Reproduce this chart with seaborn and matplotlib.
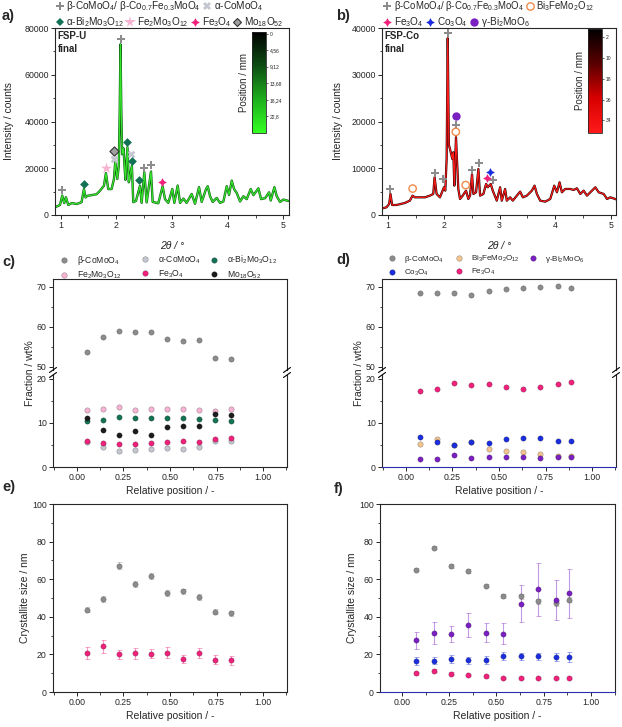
import numpy as np
import pandas as pd
import seaborn as sns
import matplotlib.pyplot as plt
from matplotlib.colors import LinearSegmentedColormap, Normalize
from matplotlib.cm import ScalarMappable
from matplotlib.lines import Line2D
from matplotlib.ticker import MultipleLocator

sns.set_style("ticks")
plt.rcParams["font.family"] = ["Liberation Sans", "DejaVu Sans"]
plt.rcParams["mathtext.fontset"] = "custom"
plt.rcParams["mathtext.rm"] = "Liberation Sans"
plt.rcParams["mathtext.it"] = "Liberation Sans:italic"
plt.rcParams["mathtext.bf"] = "Liberation Sans:bold"
plt.rcParams["axes.linewidth"] = 0.8
plt.rcParams["xtick.direction"] = "out"
plt.rcParams["ytick.direction"] = "out"

# ---- XRD patterns (2theta / deg, counts) ----
tt_u = [0.90, 0.99, 1.03, 1.066, 1.096, 1.138, 1.20, 1.29, 1.377, 1.419, 1.449, 1.48, 1.557,
        1.647, 1.707, 1.778, 1.814, 1.856, 1.916, 1.958, 1.982, 2.018, 2.045, 2.062, 2.075,
        2.09, 2.105, 2.13, 2.15, 2.165, 2.20, 2.225, 2.245, 2.28, 2.305, 2.353, 2.425, 2.455,
        2.503, 2.545, 2.623, 2.653, 2.754, 2.832, 2.874, 2.934, 3.006, 3.042, 3.102, 3.144,
        3.204, 3.263, 3.353, 3.413, 3.485, 3.533, 3.611, 3.641, 3.683, 3.731, 3.802, 3.862,
        3.922, 3.982, 4.024, 4.072, 4.114, 4.162, 4.222, 4.281, 4.341, 4.413, 4.461, 4.551,
        4.599, 4.671, 4.743, 4.772, 4.838, 4.88, 4.94, 5.00, 5.09]
int_u = [3300, 4300, 8300, 5100, 7600, 4300, 5100, 4700, 5500, 11100, 7500, 8200, 8500,
         8900, 10400, 12500, 17900, 11100, 11100, 15400, 22900, 15400, 21000, 45000, 73000,
         45000, 26000, 28500, 20000, 15000, 29000, 14000, 16500, 21000, 5500, 6000, 12500, 5200,
         18300, 5400, 18600, 5600, 5000, 12300, 6800, 5200, 11100, 5200, 12600, 5200,
         7000, 5200, 9000, 4800, 11900, 5600, 11100, 12300, 8000, 5600, 7300, 5200,
         5800, 12300, 8600, 14700, 11100, 9400, 5800, 8000, 6800, 11100, 8500, 11400,
         6800, 7200, 9700, 6200, 11900, 8000, 5600, 6600, 6000]

tt_co = [0.90, 0.97, 1.018, 1.042, 1.072, 1.15, 1.30, 1.39, 1.438, 1.48, 1.57, 1.66, 1.75,
         1.81, 1.834, 1.87, 1.93, 1.978, 2.002, 2.026, 2.05, 2.07, 2.09, 2.11, 2.152, 2.17,
         2.188, 2.218, 2.26, 2.29, 2.338, 2.398, 2.44, 2.47, 2.506, 2.53, 2.578, 2.62, 2.65,
         2.71, 2.758, 2.788, 2.842, 2.878, 2.95, 3.01, 3.04, 3.10, 3.13, 3.19, 3.238, 3.31,
         3.37, 3.418, 3.49, 3.58, 3.628, 3.67, 3.73, 3.82, 3.91, 3.982, 4.03, 4.077, 4.119,
         4.179, 4.269, 4.329, 4.389, 4.449, 4.509, 4.569, 4.629, 4.719, 4.779, 4.869, 4.929,
         4.989, 5.109]
int_co = [1430, 1640, 2360, 4500, 2140, 2140, 2570, 3070, 4140, 3780, 3780, 3780, 4140,
          4500, 8070, 4500, 3780, 5210, 5930, 5210, 12000, 37800, 15000, 14140, 12000, 13420,
          6280, 16640, 5570, 3430, 4140, 5210, 3430, 4140, 8780, 4500, 4860, 9850, 4140,
          4500, 6640, 5930, 6640, 5210, 3070, 5930, 3070, 5570, 3070, 3780, 3070, 4140,
          5000, 3780, 4140, 5210, 6280, 4500, 3070, 2860, 3430, 6280, 4860, 7000, 4860,
          5570, 5570, 5360, 5710, 4500, 5210, 4140, 4860, 5930, 4860, 4500, 3430,
          3780, 3280]

# reflection markers (2theta, counts)
u_beta_x, u_beta_y = [1.03, 2.08, 2.50, 2.625], [10700, 75400, 20000, 21300]
u_acomo_x, u_acomo_y = [1.96, 2.265], [24000, 26300]
u_abi_x, u_abi_y = [1.42, 2.20, 2.282, 2.415], [13200, 31200, 23000, 15000]
u_fe2_x, u_fe2_y = [1.815], [20000]
u_fe3_x, u_fe3_y = [2.828], [14100]
u_mo18_x, u_mo18_y = [1.96], [27300]

co_beta_x = [1.035, 1.834, 1.98, 2.07, 2.218, 2.506, 2.626, 2.878]
co_beta_y = [5600, 9000, 7600, 39000, 19300, 9700, 11200, 7450]
co_bife_x, co_bife_y = [1.44, 2.215, 2.392], [5650, 17800, 6400]
co_fe3_x, co_fe3_y = [2.777], [8000]
co_co3_x, co_co3_y = [2.836], [9250]
co_gbi_x, co_gbi_y = [2.22], [21200]

# ---- phase fractions / wt% ----
pos_u = [0.055, 0.142, 0.227, 0.313, 0.398, 0.484, 0.57, 0.656, 0.742, 0.828]
fr_u_beta = [53.8, 57.6, 59.0, 58.7, 58.75, 56.9, 56.5, 56.75, 52.3, 52.1]
fr_u_acomo = [5.6, 4.5, 3.65, 3.85, 4.0, 4.3, 4.15, 4.5, 5.9, 5.9]
fr_u_abi = [10.5, 10.75, 11.4, 11.2, 11.2, 11.05, 11.1, 10.9, 10.6, 10.5]
fr_u_fe2 = [13.0, 13.2, 13.6, 12.95, 13.25, 13.1, 13.1, 12.95, 12.65, 13.1]
fr_u_fe3 = [5.9, 5.45, 5.2, 5.3, 5.4, 5.6, 5.9, 5.7, 6.35, 6.6]
fr_u_mo18 = [11.05, 8.5, 7.2, 8.1, 7.35, 9.2, 9.25, 9.3, 12.05, 11.9]

pos_co = [0.075, 0.168, 0.26, 0.352, 0.445, 0.537, 0.63, 0.722, 0.815, 0.884]
fr_co_beta = [68.6, 68.5, 68.4, 68.1, 68.9, 69.5, 69.8, 69.9, 70.15, 69.75]
fr_co_bife = [5.3, 6.3, 5.0, 5.6, 4.1, 3.55, 3.3, 2.95, 2.5, 2.45]
fr_co_gbi = [1.8, 1.75, 2.65, 2.1, 2.35, 2.2, 2.3, 2.1, 2.35, 2.35]
fr_co_co3 = [6.8, 5.7, 4.9, 5.7, 5.4, 6.45, 6.65, 6.65, 5.9, 5.9]
fr_co_fe3 = [17.2, 17.65, 19.0, 18.6, 18.9, 18.2, 17.7, 18.1, 18.9, 19.4]

# ---- crystallite sizes / nm (value, error) ----
cs_u_beta = [43.8, 49.6, 67.2, 57.3, 61.5, 52.5, 53.5, 50.4, 42.6, 41.8]
cs_u_beta_err = [1.5, 1.5, 1.8, 1.5, 1.6, 1.5, 1.5, 1.5, 1.3, 1.3]
cs_u_fe3 = [20.7, 24.3, 20.0, 20.6, 20.4, 20.9, 17.6, 20.9, 17.2, 17.0]
cs_u_fe3_err = [3.1, 3.5, 2.5, 2.8, 2.5, 2.8, 2.3, 2.7, 2.4, 2.4]

cs_co_beta = [65.1, 76.8, 67.2, 64.4, 56.6, 51.1, 50.9, 48.2, 47.2, 49.1]
cs_co_beta_err = [1.0, 1.0, 1.0, 1.0, 1.0, 1.0, 1.2, 1.2, 1.2, 1.2]
cs_co_gbi = [27.5, 31.4, 30.9, 35.6, 31.6, 31.0, 47.0, 54.6, 48.9, 52.5]
cs_co_gbi_err = [4.4, 6.1, 4.4, 6.4, 5.1, 5.6, 10.0, 14.0, 10.5, 13.0]
cs_co_co3 = [16.5, 16.7, 17.6, 16.8, 17.2, 19.3, 19.0, 19.0, 18.8, 18.6]
cs_co_co3_err = [2.0, 2.0, 2.3, 2.0, 2.2, 2.2, 2.0, 2.0, 2.2, 2.5]
cs_co_fe3 = [9.9, 11.2, 9.75, 9.0, 8.3, 7.6, 7.6, 7.45, 7.45, 7.45]
cs_co_fe3_err = [0.7, 0.8, 0.7, 0.7, 0.6, 0.6, 0.6, 0.6, 0.6, 0.6]

cb_u_ticks = [0, 4.56, 9.12, 13.68, 18.24, 22.8]
cb_u_labels = ["0", "4,56", "9,12", "13,68", "18,24", "22,8"]
cb_co_ticks = [2, 10, 18, 26, 34]

# colours
c_beta = "#8c8c8c"
c_acomo = "#c4c6d0"
c_abi = "#137255"
c_fe2 = "#f7b3d2"
c_fe3 = "#f0217b"
c_mo18 = "#1c1c1c"
c_bife = "#f3c48f"
c_gbi = "#7a1fc2"
c_co3 = "#1a2ee0"

W, H = 622, 727
fig = plt.figure(figsize=(W / 100, H / 100), dpi=100)


def box(l, t, r, b):
    return [l / W, 1 - b / H, (r - l) / W, (b - t) / H]


def fx(x):
    return x / W


def fy(y):
    return 1 - y / H


def style(ax, fs=6.3):
    ax.tick_params(which="major", length=3, width=0.7, labelsize=fs, pad=1.5)
    ax.tick_params(which="minor", length=1.8, width=0.6)
    for s in ax.spines.values():
        s.set_linewidth(0.8)
        s.set_visible(True)


ax_a = fig.add_axes(box(55, 28, 289, 215))
ax_b = fig.add_axes(box(382, 28, 616, 215))

# ---------- a) FSP-U ----------
df_u = pd.DataFrame({"tt": tt_u, "I": int_u})
sns.lineplot(data=df_u, x="tt", y="I", ax=ax_a, color="#0f5a16", lw=1.7, sort=False, estimator=None)
sns.lineplot(data=df_u, x="tt", y="I", ax=ax_a, color="#36e42c", lw=0.9, sort=False, estimator=None)


def mark(ax, xs, ys, **kw):
    sns.scatterplot(x=xs, y=ys, ax=ax, legend=False, zorder=5, **kw)


mark(ax_a, u_beta_x, u_beta_y, marker="P", color=c_beta, s=38, linewidth=0)
mark(ax_a, u_acomo_x, u_acomo_y, marker="X", color=c_acomo, s=30, linewidth=0)
mark(ax_a, u_abi_x, u_abi_y, marker="D", color=c_abi, s=20, linewidth=0)
mark(ax_a, u_fe2_x, u_fe2_y, marker="*", color=c_fe2, s=70, linewidth=0)
mark(ax_a, u_fe3_x, u_fe3_y, marker=(4, 1, 0), color=c_fe3, s=40, linewidth=0)
mark(ax_a, u_mo18_x, u_mo18_y, marker="D", color="#a0a0a0", s=22, edgecolor="#333333", linewidth=0.8)

ax_a.set_xlim(0.9, 5.1)
ax_a.set_ylim(0, 80000)
ax_a.xaxis.set_major_locator(MultipleLocator(1))
ax_a.xaxis.set_minor_locator(MultipleLocator(0.5))
ax_a.yaxis.set_major_locator(MultipleLocator(20000))
ax_a.yaxis.set_minor_locator(MultipleLocator(10000))
ax_a.set_xlabel("2θ / °", fontsize=7.5, fontstyle="italic", labelpad=8)
ax_a.set_ylabel("Intensity / counts", fontsize=7.5)
ax_a.yaxis.set_label_coords(-0.175, 0.5)
style(ax_a)
ax_a.text(0.012, 0.985, "FSP-U\nfinal", transform=ax_a.transAxes, va="top", ha="left",
          fontsize=7, fontweight="bold", linespacing=1.45)

# ---------- b) FSP-Co ----------
df_co = pd.DataFrame({"tt": tt_co, "I": int_co})
sns.lineplot(data=df_co, x="tt", y="I", ax=ax_b, color="#1a0000", lw=1.6, sort=False, estimator=None)
sns.lineplot(data=df_co, x="tt", y="I", ax=ax_b, color="#ff1a1a", lw=0.9, sort=False, estimator=None)

mark(ax_b, co_beta_x, co_beta_y, marker="P", color=c_beta, s=38, linewidth=0)
mark(ax_b, co_bife_x, co_bife_y, marker="o", facecolors="none", edgecolor="#f08a4b", s=28, linewidth=1.0)
mark(ax_b, co_fe3_x, co_fe3_y, marker=(4, 1, 0), color=c_fe3, s=40, linewidth=0)
mark(ax_b, co_co3_x, co_co3_y, marker=(4, 1, 0), color=c_co3, s=40, linewidth=0)
mark(ax_b, co_gbi_x, co_gbi_y, marker="o", color=c_gbi, s=36, linewidth=0)

ax_b.set_xlim(0.89, 5.09)
ax_b.set_ylim(0, 40000)
ax_b.xaxis.set_major_locator(MultipleLocator(1))
ax_b.xaxis.set_minor_locator(MultipleLocator(0.5))
ax_b.yaxis.set_major_locator(MultipleLocator(10000))
ax_b.yaxis.set_minor_locator(MultipleLocator(5000))
ax_b.set_xlabel("2θ / °", fontsize=7.5, fontstyle="italic", labelpad=8)
ax_b.set_ylabel("Intensity / counts", fontsize=7.5)
ax_b.yaxis.set_label_coords(-0.167, 0.5)
style(ax_b)
ax_b.text(0.012, 0.985, "FSP-Co\nfinal", transform=ax_b.transAxes, va="top", ha="left",
          fontsize=7, fontweight="bold", linespacing=1.45)

# colour bars
cmap_u = LinearSegmentedColormap.from_list("u", ["#000000", "#0d4d14", "#1cae1c", "#33ff22"])
cmap_co = LinearSegmentedColormap.from_list("co", ["#000000", "#5a0000", "#d80000", "#ff1a1a"])
for rect, cmap, vmin, vmax, ticks, labels in [
    (box(252, 32, 266, 133), cmap_u, -0.46, 27.4, cb_u_ticks, cb_u_labels),
    (box(588, 29, 602, 133), cmap_co, -1.2, 38.9, cb_co_ticks, [str(t) for t in cb_co_ticks]),
]:
    cax = fig.add_axes(rect)
    cb = fig.colorbar(ScalarMappable(norm=Normalize(vmin, vmax), cmap=cmap), cax=cax)
    cax.invert_yaxis()
    cb.set_ticks(ticks)
    cb.set_ticklabels(labels)
    cax.tick_params(labelsize=3.6, length=1.5, width=0.5, pad=1)
    cb.outline.set_linewidth(0.6)
    cax.yaxis.set_label_position("left")
    cax.set_ylabel("Position / mm", fontsize=7, labelpad=2)

# legends above a and b
def handle(marker, color, ms, mfc=None, mec=None, mew=0):
    return Line2D([], [], linestyle="none", marker=marker, color=color, markersize=ms,
                  markerfacecolor=mfc if mfc is not None else color,
                  markeredgecolor=mec if mec is not None else color, markeredgewidth=mew)


leg_kw = dict(frameon=False, handlelength=0.9, handletextpad=0.25,
              columnspacing=0.15, borderpad=0, borderaxespad=0, loc="center left",
              bbox_transform=fig.transFigure)

fig.legend([handle("P", c_beta, 6.2), handle("X", c_acomo, 5.5)],
           [r"β-CoMoO$_4$/ β-Co$_{0.7}$Fe$_{0.3}$MoO$_4$", r"α-CoMoO$_4$"],
           ncol=2, bbox_to_anchor=(fx(55), fy(6)), fontsize=7.2, **leg_kw)
fig.legend([handle("D", c_abi, 4.5), handle("*", c_fe2, 8.5), handle((4, 1, 0), c_fe3, 6.3),
            handle("D", "#a0a0a0", 4.0, mec="#333333", mew=0.8)],
           [r"α-Bi$_2$Mo$_3$O$_{12}$", r"Fe$_2$Mo$_3$O$_{12}$", r"Fe$_3$O$_4$", r"Mo$_{18}$O$_{52}$"],
           ncol=4, bbox_to_anchor=(fx(55), fy(22)), fontsize=7.2, **leg_kw)

fig.legend([handle("P", c_beta, 6.2), handle("o", "#f08a4b", 5.3, mfc="none", mew=1.0)],
           [r"β-CoMoO$_4$/ β-Co$_{0.7}$Fe$_{0.3}$MoO$_4$", r"Bi$_3$FeMo$_2$O$_{12}$"],
           ncol=2, bbox_to_anchor=(fx(383), fy(6)), fontsize=6.9, **leg_kw)
fig.legend([handle((4, 1, 0), c_fe3, 6.3), handle((4, 1, 0), c_co3, 6.3), handle("o", c_gbi, 6)],
           [r"Fe$_3$O$_4$", r"Co$_3$O$_4$", r"γ-Bi$_2$MoO$_6$"],
           ncol=3, bbox_to_anchor=(fx(383), fy(22)), fontsize=7.2, **leg_kw)


# ---------- c), d) phase fractions with broken axis ----------
def ball_plot(ax, xs, series, errs=None):
    for name, (vals, col) in series.items():
        df = pd.DataFrame({"pos": xs, "val": vals})
        if errs is not None and name in errs:
            ax.errorbar(xs, vals, yerr=errs[name], fmt="none", ecolor=col, alpha=0.45,
                        elinewidth=0.8, capsize=1.8, capthick=0.6, zorder=2)
        sns.scatterplot(data=df, x="pos", y="val", ax=ax, color=col, s=15,
                        edgecolor=(0, 0, 0, 0.35), linewidth=0.4, legend=False, zorder=3)
    ax.set_xlabel("")
    ax.set_ylabel("")


def broken_panel(l, r, series):
    up = fig.add_axes(box(l, 279, r, 370))
    lo = fig.add_axes(box(l, 375, r, 467))
    ball_plot(up, series[0], series[1])
    ball_plot(lo, series[0], series[1])
    up.set_ylim(49.25, 72)
    lo.set_ylim(0, 20.9)
    for a in (up, lo):
        a.set_xlim(-0.128, 1.128)
        a.xaxis.set_major_locator(MultipleLocator(0.25))
        a.xaxis.set_minor_locator(MultipleLocator(0.125))
        a.yaxis.set_major_locator(MultipleLocator(10))
        a.yaxis.set_minor_locator(MultipleLocator(5))
        style(a)
    up.spines["bottom"].set_visible(False)
    lo.spines["top"].set_visible(False)
    up.tick_params(axis="x", which="both", bottom=False, labelbottom=False)
    lo.xaxis.set_major_formatter(plt.FuncFormatter(lambda v, p: f"{v:.2f}"))
    lo.set_xlabel("Relative position / -", fontsize=7.5, labelpad=3)
    # break marks
    for xp in (l, r):
        for yp in (370, 375):
            fig.add_artist(Line2D([fx(xp - 3.5), fx(xp + 3.5)], [fy(yp + 2.5), fy(yp - 2.5)],
                                  color="black", lw=0.8))
    return up, lo


up_c, lo_c = broken_panel(53, 287, (pos_u, {
    "beta": (fr_u_beta, c_beta), "fe2": (fr_u_fe2, c_fe2), "abi": (fr_u_abi, c_abi),
    "acomo": (fr_u_acomo, c_acomo), "fe3": (fr_u_fe3, c_fe3), "mo18": (fr_u_mo18, c_mo18)}))
up_d, lo_d = broken_panel(382, 616, (pos_co, {
    "beta": (fr_co_beta, c_beta), "fe3": (fr_co_fe3, c_fe3), "bife": (fr_co_bife, c_bife),
    "co3": (fr_co_co3, c_co3), "gbi": (fr_co_gbi, c_gbi)}))
lo_d.spines["bottom"].set_color("#2b2bb0")

fig.text(fx(30), fy(373), "Fraction / wt%", rotation=90, ha="center", va="center", fontsize=7.5)
fig.text(fx(359), fy(373), "Fraction / wt%", rotation=90, ha="center", va="center", fontsize=7.5)


def ball(color):
    return Line2D([], [], linestyle="none", marker="o", markersize=4.0, color=color,
                  markeredgecolor=(0, 0, 0, 0.35), markeredgewidth=0.4)


def col_legend(items, x_marker, fs):
    # one legend column; the marker sits about half a handle length right of the anchor
    hl = 1.0
    anchor = x_marker - hl * fs * 100 / 72 / 2
    fig.legend([ball(c) for c, _ in items], [t for _, t in items],
               loc="upper left", bbox_to_anchor=(fx(anchor), fy(254)),
               bbox_transform=fig.transFigure, frameon=False, fontsize=fs,
               handlelength=hl, handletextpad=1.0, borderpad=0, borderaxespad=0,
               labelspacing=0.3)


col_legend([(c_beta, r"β-CoMoO$_4$"), (c_fe2, r"Fe$_2$Mo$_3$O$_{12}$")], 64, 6.2)
col_legend([(c_acomo, r"α-CoMoO$_4$"), (c_fe3, r"Fe$_3$O$_4$")], 145, 6.2)
col_legend([(c_abi, r"α-Bi$_2$Mo$_3$O$_{12}$"), (c_mo18, r"Mo$_{18}$O$_{52}$")], 214, 6.2)
col_legend([(c_beta, r"β-CoMoO$_4$"), (c_co3, r"Co$_3$O$_4$")], 392, 5.8)
col_legend([(c_bife, r"Bi$_3$FeMo$_2$O$_{12}$"), (c_fe3, r"Fe$_3$O$_4$")], 459, 5.8)
col_legend([(c_gbi, r"γ-Bi$_2$MoO$_6$")], 533, 5.8)

# ---------- e), f) crystallite size ----------
ax_e = fig.add_axes(box(53, 504, 287, 692))
ax_f = fig.add_axes(box(380, 504, 615, 692))
ball_plot(ax_e, pos_u, {"beta": (cs_u_beta, c_beta), "fe3": (cs_u_fe3, c_fe3)},
          {"beta": cs_u_beta_err, "fe3": cs_u_fe3_err})
ball_plot(ax_f, pos_co, {"beta": (cs_co_beta, c_beta), "gbi": (cs_co_gbi, c_gbi),
                         "co3": (cs_co_co3, c_co3), "fe3": (cs_co_fe3, c_fe3)},
          {"beta": cs_co_beta_err, "gbi": cs_co_gbi_err, "co3": cs_co_co3_err, "fe3": cs_co_fe3_err})
for a, lim in ((ax_e, (-0.128, 1.128)), (ax_f, (-0.116, 1.127))):
    a.set_xlim(*lim)
    a.set_ylim(0, 100)
    a.xaxis.set_major_locator(MultipleLocator(0.25))
    a.xaxis.set_minor_locator(MultipleLocator(0.125))
    a.yaxis.set_major_locator(MultipleLocator(20))
    a.yaxis.set_minor_locator(MultipleLocator(10))
    a.xaxis.set_major_formatter(plt.FuncFormatter(lambda v, p: f"{v:.2f}"))
    style(a)
    a.set_xlabel("Relative position / -", fontsize=7.5, labelpad=3)
    a.set_ylabel("Crystallite size / nm", fontsize=7.5)
ax_e.yaxis.set_label_coords(-0.098, 0.5)
ax_f.yaxis.set_label_coords(-0.098, 0.5)
ax_f.spines["bottom"].set_color("#2b2bb0")

# panel letters
for (x, y, t) in [(2, 16, "a)"), (336, 16, "b)"), (2, 262, "c)"), (336, 260, "d)"),
                  (2, 487, "e)"), (334, 489, "f)")]:
    fig.text(fx(x), fy(y), t, fontsize=10.5, fontweight="bold", ha="left", va="center")

fig.savefig("out.png", dpi=100)
